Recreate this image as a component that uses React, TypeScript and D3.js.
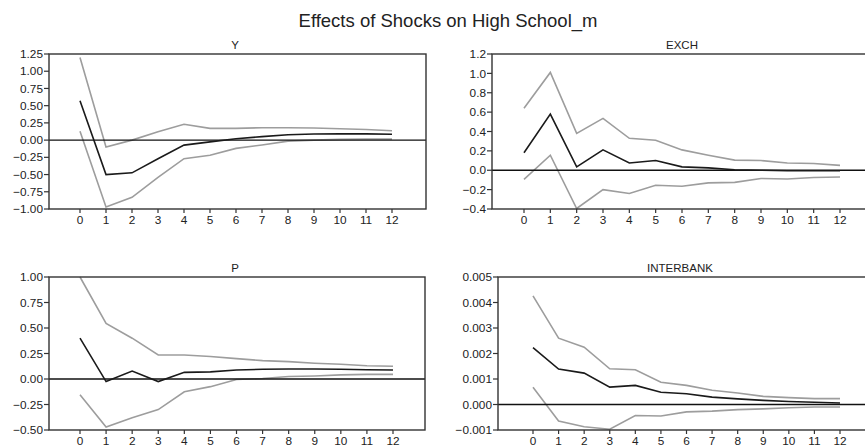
import React from 'react';
import * as d3 from 'd3';

const steps = [0, 1, 2, 3, 4, 5, 6, 7, 8, 9, 10, 11, 12];

const yMean = [0.57, -0.5, -0.475, -0.27, -0.073, -0.025, 0.02, 0.05, 0.078, 0.088, 0.09, 0.09, 0.085];
const yUpper = [1.2, -0.1, 0.0, 0.12, 0.23, 0.17, 0.17, 0.18, 0.18, 0.175, 0.165, 0.155, 0.135];
const yLower = [0.13, -0.97, -0.83, -0.54, -0.27, -0.22, -0.12, -0.07, -0.015, 0.0, 0.01, 0.015, 0.015];

const exchMean = [0.18, 0.58, 0.035, 0.21, 0.075, 0.1, 0.035, 0.025, 0.005, 0.0, -0.005, -0.005, -0.005];
const exchUpper = [0.64, 1.01, 0.38, 0.535, 0.33, 0.31, 0.21, 0.155, 0.105, 0.1, 0.075, 0.07, 0.05];
const exchLower = [-0.095, 0.155, -0.395, -0.2, -0.24, -0.155, -0.165, -0.13, -0.125, -0.085, -0.09, -0.075, -0.07];

const pMean = [0.4, -0.025, 0.078, -0.025, 0.065, 0.07, 0.088, 0.095, 0.098, 0.098, 0.095, 0.09, 0.088];
const pUpper = [1.0, 0.545, 0.4, 0.235, 0.235, 0.22, 0.2, 0.18, 0.17, 0.155, 0.145, 0.13, 0.125];
const pLower = [-0.155, -0.47, -0.38, -0.3, -0.125, -0.075, -0.005, 0.005, 0.025, 0.03, 0.04, 0.045, 0.045];

const ibMean = [0.00223, 0.00139, 0.00123, 0.00068, 0.00075, 0.00048, 0.00042, 0.00029, 0.00022, 0.00016, 0.00012, 0.00009, 0.00006];
const ibUpper = [0.00426, 0.0026, 0.00225, 0.0014, 0.00136, 0.00087, 0.00075, 0.00056, 0.00045, 0.00032, 0.00027, 0.00023, 0.00023];
const ibLower = [0.00068, -0.00065, -0.00087, -0.00097, -0.00043, -0.00045, -0.00029, -0.00026, -0.0002, -0.00017, -0.00013, -0.0001, -0.0001];

const yTicks = [-1.0, -0.75, -0.5, -0.25, 0, 0.25, 0.5, 0.75, 1.0, 1.25];
const exchTicks = [-0.4, -0.2, 0, 0.2, 0.4, 0.6, 0.8, 1.0, 1.2];
const pTicks = [-0.5, -0.25, 0, 0.25, 0.5, 0.75, 1.0];
const ibTicks = [-0.001, 0, 0.001, 0.002, 0.003, 0.004, 0.005];

const panels = [
  { title: 'Y', mean: yMean, upper: yUpper, lower: yLower, ticks: yTicks, fmt: '.2f',
    left: 49, right: 426, top: 54, bottom: 209, x0: 80, x12: 392, tx: 235 },
  { title: 'EXCH', mean: exchMean, upper: exchUpper, lower: exchLower, ticks: exchTicks, fmt: '.1f',
    left: 492, right: 872, top: 54, bottom: 209, x0: 524, x12: 840, tx: 682 },
  { title: 'P', mean: pMean, upper: pUpper, lower: pLower, ticks: pTicks, fmt: '.2f',
    left: 49, right: 425, top: 277, bottom: 430, x0: 80, x12: 393, tx: 235 },
  { title: 'INTERBANK', mean: ibMean, upper: ibUpper, lower: ibLower, ticks: ibTicks, fmt: '.3f',
    left: 498, right: 872, top: 277, bottom: 430, x0: 533, x12: 840, tx: 680 },
];

const font = '"Liberation Sans", Arial, sans-serif';
const ink = '#222';

const Panel = ({ p }: any) => {
  const x = d3.scaleLinear().domain([0, 12]).range([p.x0, p.x12]);
  const ext = d3.extent(p.ticks) as [number, number];
  const y = d3.scaleLinear().domain(ext).range([p.bottom, p.top]);
  const line = d3.line<number>().x((_, i) => x(steps[i])).y((d) => y(d));
  const f = d3.format(p.fmt);

  return (
    <g>
      <text x={p.tx} y={p.top - 5} textAnchor="middle" fontSize={11.5} fill={ink}
        fontFamily={font}>{p.title}</text>
      {/* confidence bands */}
      <path d={line(p.upper) || ''} fill="none" stroke="#9d9d9d" strokeWidth={1.6} />
      <path d={line(p.lower) || ''} fill="none" stroke="#9d9d9d" strokeWidth={1.6} />
      <line x1={p.left} x2={p.right} y1={y(0)} y2={y(0)} stroke="#111" strokeWidth={1.3} />
      <path d={line(p.mean) || ''} fill="none" stroke="#1a1a1a" strokeWidth={1.6} />
      <rect x={p.left} y={p.top} width={p.right - p.left} height={p.bottom - p.top}
        fill="none" stroke="#333" strokeWidth={1.4} />
      {p.ticks.map((t: number) => (
        <g key={t}>
          <line x1={p.left - 5} x2={p.left} y1={y(t)} y2={y(t)} stroke="#333" strokeWidth={1.2} />
          <text x={p.left - 6} y={y(t)} dy="0.35em" textAnchor="end" fontSize={11.8} fill={ink}
            fontFamily={font}>{f(t)}</text>
        </g>
      ))}
      {steps.map((s) => (
        <g key={s}>
          <line x1={x(s)} x2={x(s)} y1={p.bottom} y2={p.bottom + 4} stroke="#333" strokeWidth={1.2} />
          <text x={x(s)} y={p.bottom + 15} textAnchor="middle" fontSize={11.8} fill={ink}
            fontFamily={font}>{s}</text>
        </g>
      ))}
    </g>
  );
};

const App = () => {
  return (
    <svg width={865} height={448} style={{ position: 'absolute', left: 0, top: 0, background: '#fff' }}>
      <rect width={865} height={448} fill="#fff" />
      <text x={448} y={27} textAnchor="middle" fontSize={18.5} fill={ink} fontFamily={font}>
        Effects of Shocks on High School_m
      </text>
      {panels.map((p) => <Panel key={p.title} p={p} />)}
    </svg>
  );
};

export default App;
